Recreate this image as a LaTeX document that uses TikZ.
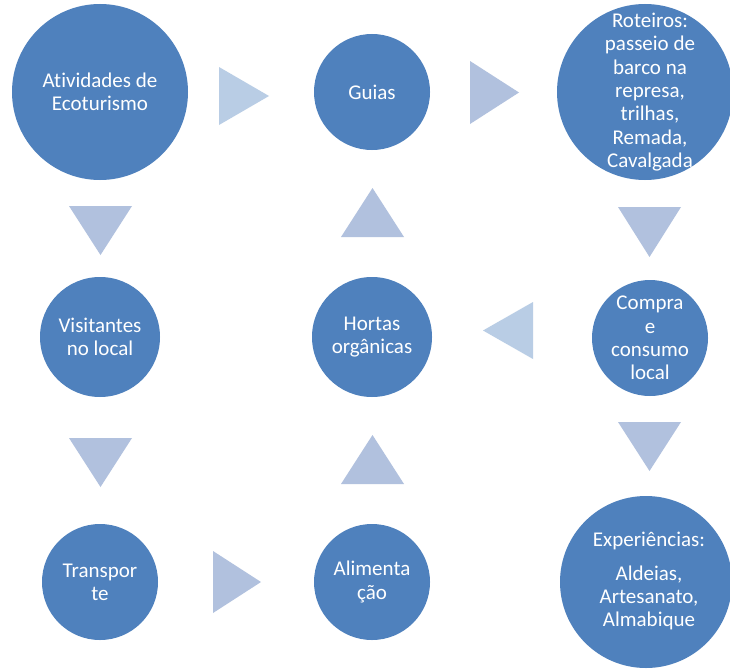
\documentclass[tikz,border=0pt]{standalone}
\usepackage{fontspec}
\setmainfont{Carlito}[Ligatures={NoCommon}]
\definecolor{bubble}{HTML}{4F81BD}
\definecolor{arrowA}{HTML}{B1C1DE}
\definecolor{arrowB}{HTML}{B9CDE5}
\begin{document}
\begin{tikzpicture}[x=1pt,y=-1pt,
  bub/.style={circle,fill=bubble,draw=none,inner sep=0pt},
  txt/.style={text=white,align=center,inner sep=0pt,font=\fontsize{21}{23.3}\selectfont},
  tri/.style={fill=arrowA,draw=none},
  trilight/.style={fill=arrowB,draw=none}]
\useasboundingbox (0,0) rectangle (730,669);
\fill[white] (0,0) rectangle (730,669);
% circles
\node[bub,minimum size=176pt] (c1) at (100,92) {};
\node[bub,minimum size=116pt] (c2) at (372,92) {};
\node[bub,minimum size=176pt] (c3) at (645,92) {};
\node[bub,minimum size=120pt] (c4) at (100,337) {};
\node[bub,minimum size=120pt] (c5) at (372,337) {};
\node[bub,minimum size=116pt] (c6) at (650,338) {};
\node[bub,minimum size=116pt] (c7) at (100,582) {};
\node[bub,minimum size=116pt] (c8) at (372,582) {};
\node[bub,minimum size=172pt] (c9) at (646,582) {};
% texts
\node[txt] (t1) at (c1) {Atividades de\\Ecoturismo};
\node[txt] (t2) at (c2) {Guias};
\node[txt] (t3) at ([xshift=5pt]c3.center) {Roteiros:\\passeio de\\barco na\\represa,\\trilhas,\\Remada,\\Cavalgada};
\node[txt] (t4) at (c4) {Visitantes\\no local};
\node[txt] (t5) at (c5) {Hortas\\orgânicas};
\node[txt] (t6) at (c6) {Compra\\e\\consumo\\local};
\node[txt] (t7) at (c7) {Transpor\\te};
\node[txt] (t8) at (c8) {Alimenta\\ção};
\node[txt] (t9) at ([xshift=3pt,yshift=1pt]c9.center) {Experiências:\\[11pt]Aldeias,\\Artesanato,\\Almabique};
% arrows (triangles)
\fill[trilight] (219,67) -- (219,125) -- (269,96) -- cycle;
\fill[tri] (470,61) -- (470,124) -- (519,92.5) -- cycle;
\fill[tri] (69,206) -- (132,206) -- (100.5,255) -- cycle;
\fill[tri] (341,237) -- (404,237) -- (372.5,188) -- cycle;
\fill[tri] (618,207) -- (681,207) -- (649.5,257) -- cycle;
\fill[trilight] (533,302) -- (533,359) -- (483,330.5) -- cycle;
\fill[tri] (69,438) -- (132,438) -- (100.5,487) -- cycle;
\fill[tri] (341,484) -- (404,484) -- (372.5,435) -- cycle;
\fill[tri] (618,422) -- (681,422) -- (649.5,471) -- cycle;
\fill[tri] (213,551) -- (213,613) -- (261,582) -- cycle;
\end{tikzpicture}
\end{document}
